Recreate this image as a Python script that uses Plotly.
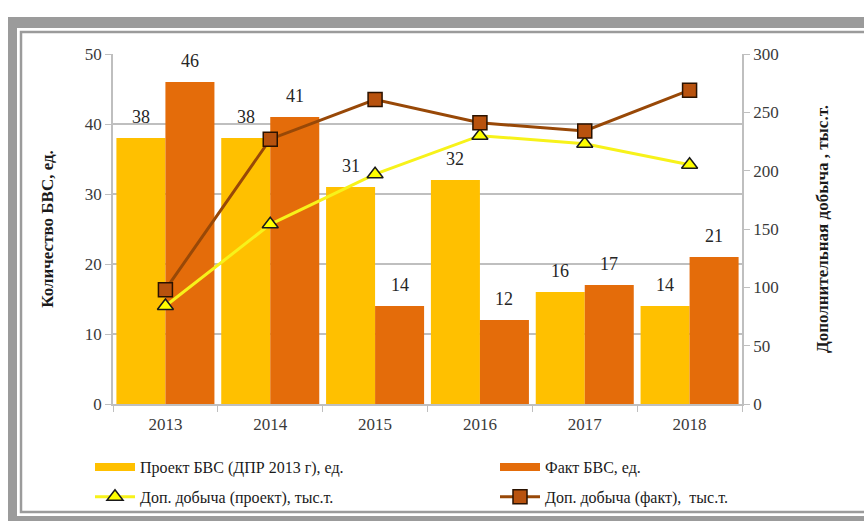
import plotly.graph_objects as go

# Years on the category axis
years = ["2013", "2014", "2015", "2016", "2017", "2018"]

# Number of sidetracks (left axis, units)
bvs_project = [38, 38, 31, 32, 16, 14]
bvs_fact = [46, 41, 14, 12, 17, 21]

# Additional production (right axis, thousand tonnes)
prod_project = [84, 154, 197, 230, 223, 205]
prod_fact = [98, 227, 261, 241, 234, 269]

W, H = 864, 521
L, R, T, B = 113, 742, 54, 404  # plot area in pixels


def px(x):
    return (x - L) / (R - L)


def py(y):
    return (B - y) / (B - T)


FONT = "Times New Roman, Liberation Serif, serif"
GRID = "#BFBFBF"
TXT = "#3A3A3A"
YELLOW = "#FFC000"
ORANGE = "#E46C0A"
BAR_SHIFT = 24.5  # half of one bar width in pixels

fig = go.Figure()

# Legend entries for the bar series, drawn as wide flat swatches
fig.add_trace(go.Scatter(
    x=years, y=[None] * len(years), mode="lines",
    name="Проект БВС (ДПР 2013 г), ед.",
    line=dict(color=YELLOW, width=8), legend="legend", legendgroup="a",
    hoverinfo="skip",
))
fig.add_trace(go.Scatter(
    x=years, y=[None] * len(years), mode="lines", name="Факт БВС, ед.",
    line=dict(color=ORANGE, width=8), legend="legend2", legendgroup="c",
    hoverinfo="skip",
))

fig.add_trace(go.Bar(
    x=years, y=bvs_project, name="Проект БВС (ДПР 2013 г), ед.",
    marker=dict(color=YELLOW, line=dict(width=0)), showlegend=False,
    offsetgroup="p",
))
fig.add_trace(go.Bar(
    x=years, y=bvs_fact, name="Факт БВС, ед.",
    marker=dict(color=ORANGE, line=dict(width=0)), showlegend=False,
    offsetgroup="f",
))
fig.add_trace(go.Scatter(
    x=years, y=prod_project, name="Доп. добыча (проект), тыс.т.",
    yaxis="y2", mode="lines+markers",
    line=dict(color="#F7F21A", width=3),
    marker=dict(symbol="triangle-up", size=14, color="#FFFF00",
                line=dict(color="#1A1A1A", width=1.5)),
    legend="legend", legendgroup="b",
))
fig.add_trace(go.Scatter(
    x=years, y=prod_fact, name="Доп. добыча (факт),  тыс.т.",
    yaxis="y2", mode="lines+markers",
    line=dict(color="#984807", width=3),
    marker=dict(symbol="square", size=14, color="#B8520E",
                line=dict(color="#2A1200", width=1.5)),
    legend="legend2", legendgroup="d",
))

# Value labels above the bars (x given as the category index)
annotations = []
for vals, shift in ((bvs_project, -BAR_SHIFT), (bvs_fact, BAR_SHIFT)):
    for i, v in enumerate(vals):
        annotations.append(dict(
            x=i, y=v, xref="x", yref="y", text=str(v), showarrow=False,
            xshift=shift, yshift=9, yanchor="bottom",
            font=dict(family=FONT, size=18, color="#262626"),
        ))

legend_common = dict(
    orientation="v", xanchor="left", yanchor="top",
    font=dict(family=FONT, size=16, color="#1A1A1A"),
    bgcolor="rgba(0,0,0,0)", itemwidth=40, tracegroupgap=6,
    traceorder="grouped",
)

# Decorative double frame around the figure
shapes = [
    dict(type="rect", xref="paper", yref="paper",
         x0=px(8), x1=px(17), y0=py(W), y1=py(17),
         fillcolor="#9B9B9B", line=dict(width=0), layer="below"),
    dict(type="rect", xref="paper", yref="paper",
         x0=px(8), x1=px(870), y0=py(28), y1=py(17),
         fillcolor="#9B9B9B", line=dict(width=0), layer="below"),
    dict(type="rect", xref="paper", yref="paper",
         x0=px(8), x1=px(870), y0=py(530), y1=py(516),
         fillcolor="#9B9B9B", line=dict(width=0), layer="below"),
    dict(type="rect", xref="paper", yref="paper",
         x0=px(21), x1=px(880), y0=py(512), y1=py(32),
         fillcolor="rgba(0,0,0,0)", line=dict(color="#9B9B9B", width=2.5),
         layer="below"),
]

fig.update_layout(
    width=W, height=H,
    margin=dict(l=L, r=W - R, t=T, b=H - B, autoexpand=False),
    paper_bgcolor="white", plot_bgcolor="white",
    barmode="group", bargap=0.065, bargroupgap=0,
    font=dict(family=FONT, color=TXT),
    xaxis=dict(
        type="category", categoryorder="array", categoryarray=years,
        range=[-0.5, len(years) - 0.5], showgrid=False,
        showline=True, linecolor=GRID, linewidth=1.5,
        ticks="outside", tickson="boundaries", ticklen=6, tickcolor=GRID,
        ticklabelstandoff=4,
        tickfont=dict(family=FONT, size=17, color=TXT),
    ),
    yaxis=dict(
        range=[0, 50], dtick=10, showgrid=True, gridcolor=GRID, gridwidth=1.5,
        showline=True, linecolor=GRID, linewidth=1.5, zeroline=False,
        ticks="outside", ticklen=6, tickcolor=GRID,
        tickfont=dict(family=FONT, size=17, color=TXT),
        title=dict(text="<b>Количество БВС, ед.</b>", standoff=27,
                   font=dict(family=FONT, size=17, color="#1A1A1A")),
    ),
    yaxis2=dict(
        range=[0, 300], dtick=50, overlaying="y", side="right",
        showgrid=False, showline=True, linecolor=GRID, linewidth=1.5,
        zeroline=False, ticks="outside", ticklen=6, tickcolor=GRID,
        tickfont=dict(family=FONT, size=17, color=TXT),
        title=dict(text="<b>Дополнительная добыча , тыс.т.</b>", standoff=38,
                   font=dict(family=FONT, size=17, color="#1A1A1A")),
    ),
    legend=dict(x=px(90), y=py(450), **legend_common),
    legend2=dict(x=px(495), y=py(450), **legend_common),
    annotations=annotations,
    shapes=shapes,
)

fig.write_html("out.html")
